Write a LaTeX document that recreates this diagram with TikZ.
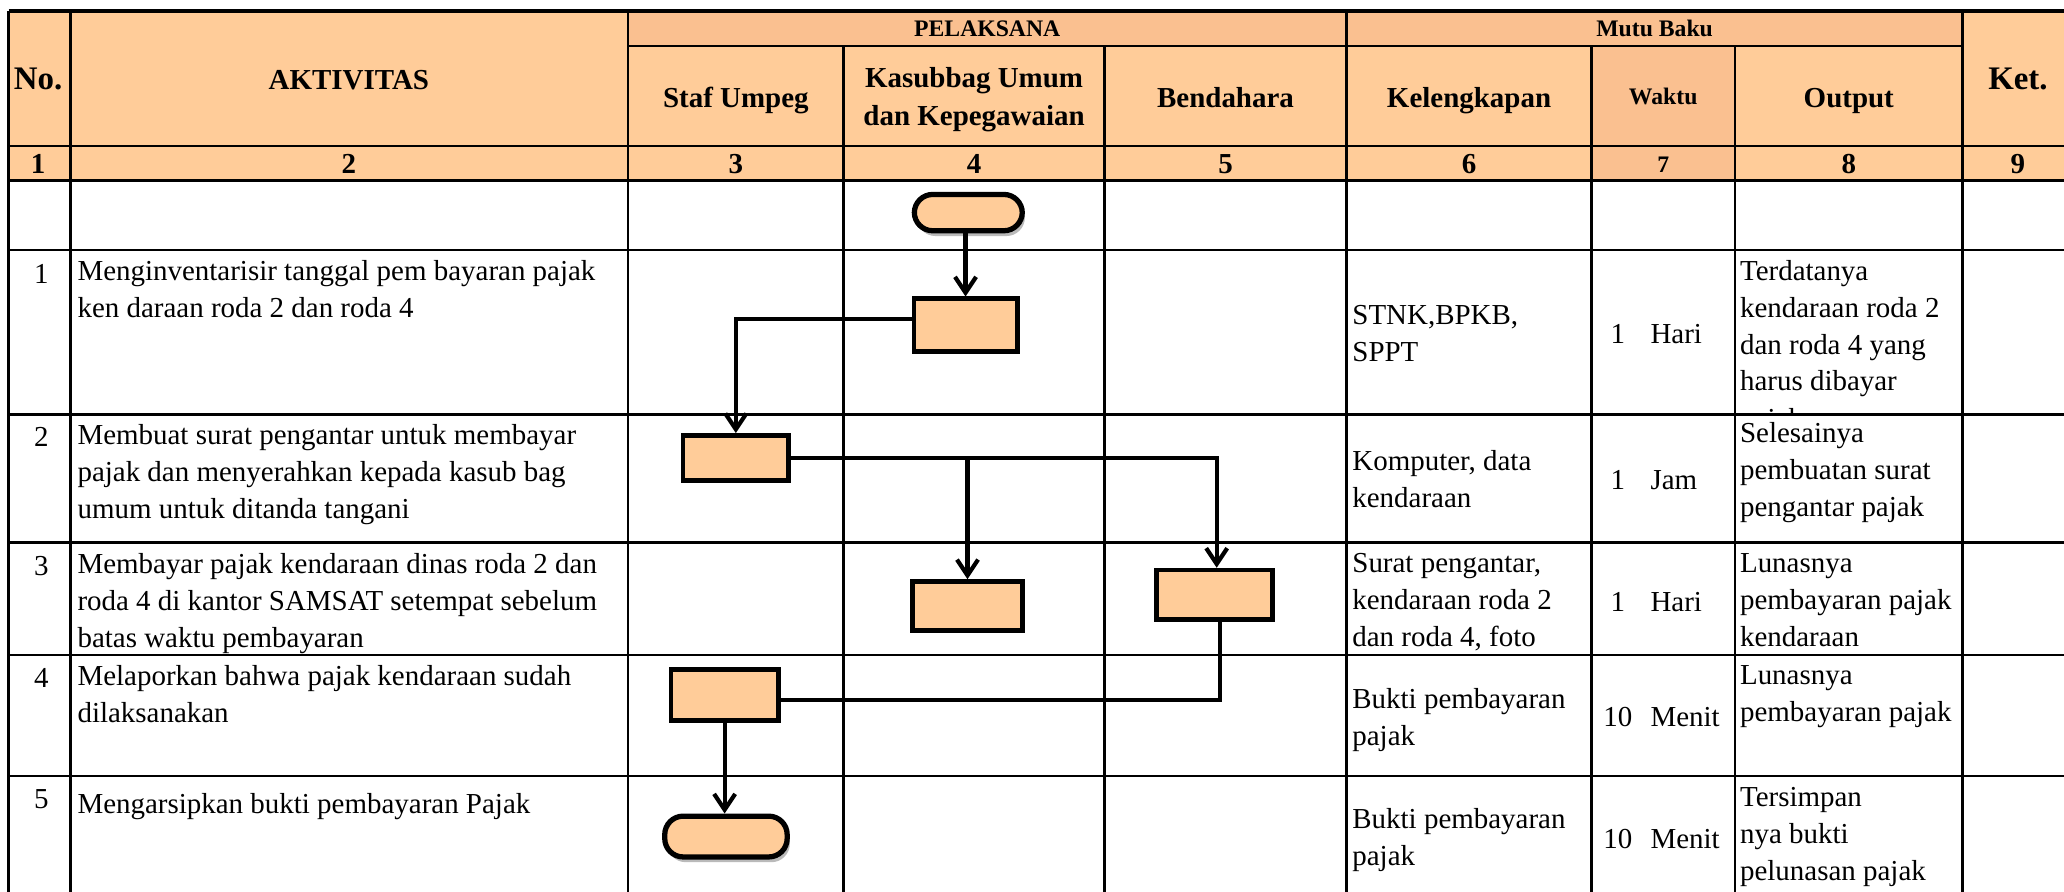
\documentclass[tikz,border=0pt]{standalone}
\usepackage{fontspec}
\setmainfont{Liberation Serif}
\usetikzlibrary{arrows.meta,shadows}
\definecolor{hdr}{HTML}{FFCC99}
\definecolor{hdrdark}{HTML}{FAC090}
\definecolor{boxfill}{HTML}{FFCC99}
\newcommand{\bodyfont}{\fontsize{11}{14}\selectfont}
\newcommand{\headfont}{\bfseries\fontsize{11}{14.3}\selectfont}
\newcommand{\smallhead}{\bfseries\fontsize{9}{11}\selectfont}
\newcommand{\bighead}{\bfseries\fontsize{12.5}{15}\selectfont}
\newcommand{\fbstrut}{\rule{0pt}{10pt}}
\begin{document}
\begin{tikzpicture}[x=0.5pt, y=-0.5pt,
  grid/.style={line width=1pt},
  cell/.style={anchor=north west, inner sep=0pt, align=left, font=\bodyfont, yshift=-2.3pt, execute at begin node=\fbstrut},
  txt/.style={anchor=base, inner sep=0pt, font=\bodyfont},
  unit/.style={anchor=base west, inner sep=0pt, font=\bodyfont},
  hd/.style={anchor=base, inner sep=0pt, font=\headfont},
  shd/.style={anchor=base, inner sep=0pt, font=\smallhead},
  bhd/.style={anchor=base, inner sep=0pt, font=\bighead},
  proc/.style={draw, line width=1.8pt, fill=boxfill, inner sep=0pt},
  term/.style={draw, line width=2pt, fill=boxfill, inner sep=0pt, rounded corners=7pt,
    drop shadow={shadow xshift=1pt, shadow yshift=-2pt, fill=black!45, opacity=0.6}},
  conn/.style={line width=1.6pt},
  arr/.style={conn, -{Straight Barb[length=6pt,width=8pt]}}]

\useasboundingbox (0,0) rectangle (1568,677);
\clip (0,0) rectangle (1568,677);

% header shading
\fill[hdr] (6.5,8.5) rectangle (1580,137);
\fill[hdrdark] (477,8.5) rectangle (1491,35);
\fill[hdrdark] (1209,35) rectangle (1318,137);

% table rules
\draw[line width=1.4pt] (6.5,8.5) -- (1580,8.5);
\draw[grid] (477,35) -- (1491,35);
\foreach \yy in {111,137,190,315,412,497.5,589.5}
  \draw[grid] (6.5,\yy) -- (1580,\yy);
\foreach \xx in {6.5,53.5,477,1023,1491}
  \draw[grid] (\xx,8.5) -- (\xx,690);
\foreach \xx in {641,839,1209,1318}
  \draw[grid] (\xx,35) -- (\xx,690);

% column headings
\node[bhd] (hno) at (29,68) {No.};
\node[hd] (hakt) at (265,68) {AKTIVITAS};
\node[shd] (hpel) at (750,28) {PELAKSANA};
\node[shd] (hmutu) at (1257,28) {Mutu Baku};
\node[bhd] (hket) at (1533,68) {Ket.};
\node[hd] (hstaf) at (559,81.5) {Staf Umpeg};
\node[anchor=north, inner sep=0pt, align=center, font=\headfont, yshift=-2.3pt, execute at begin node=\fbstrut]
  (hkasub) at (740,46.4) {Kasubbag Umum\\dan Kepegawaian};
\node[hd] (hbend) at (931,81.5) {Bendahara};
\node[hd] (hkel) at (1116,81.5) {Kelengkapan};
\node[shd] (hwak) at (1263.5,79) {Waktu};
\node[hd] (hout) at (1404.5,81.5) {Output};

% column numbers
\node[hd] (c1) at (29,132) {1};
\node[hd] (c2) at (265,132) {2};
\node[hd] (c3) at (559,132) {3};
\node[hd] (c4) at (740,132) {4};
\node[hd] (c5) at (931,132) {5};
\node[hd] (c6) at (1116,132) {6};
\node[shd] (c7) at (1263.5,131) {7};
\node[hd] (c8) at (1404.5,132) {8};
\node[hd] (c9) at (1533,132) {9};

% row numbers
\node[txt] (n1) at (31.5,215) {1};
\node[txt] (n2) at (31.5,339) {2};
\node[txt] (n3) at (31.5,437) {3};
\node[txt] (n4) at (31.5,522) {4};
\node[txt] (n5) at (31.5,614.5) {5};

% activities
\node[cell] (a1) at (58.5,192.7) {Menginventarisir tanggal pem bayaran pajak\\ken daraan roda 2 dan roda 4};
\node[cell] (a2) at (58.5,317.4) {Membuat surat pengantar untuk membayar\\pajak dan menyerahkan kepada kasub bag\\umum untuk ditanda tangani};
\node[cell] (a3) at (58.5,415.5) {Membayar pajak kendaraan dinas roda 2 dan\\roda 4 di kantor SAMSAT setempat sebelum\\batas waktu pembayaran};
\node[cell] (a4) at (58.5,500.5) {Melaporkan bahwa pajak kendaraan sudah\\dilaksanakan};
\node[cell] (a5) at (58.5,592.9) {Mengarsipkan bukti pembayaran Pajak};

% kelengkapan
\node[cell] (k1) at (1027,227) {STNK,BPKB,\\SPPT};
\node[cell] (k2) at (1027,337) {Komputer, data\\kendaraan};
\node[cell] (k3) at (1027,415.6) {Surat pengantar,\\kendaraan roda 2\\dan roda 4, foto};
\node[cell] (k4) at (1027,518) {Bukti pembayaran\\pajak};
\node[cell] (k5) at (1027,609.3) {Bukti pembayaran\\pajak};

% waktu
\node[txt] (w1n) at (1229,261) {1};
\node[unit] (w1u) at (1253.5,261) {Hari};
\node[txt] (w2n) at (1229,372) {1};
\node[unit] (w2u) at (1253.5,372) {Jam};
\node[txt] (w3n) at (1229,464.5) {1};
\node[unit] (w3u) at (1253.5,464.5) {Hari};
\node[txt] (w4n) at (1229,552) {10};
\node[unit] (w4u) at (1253.5,552) {Menit};
\node[txt] (w5n) at (1229,644.5) {10};
\node[unit] (w5u) at (1253.5,644.5) {Menit};

% output
\node[cell] (o1) at (1321.5,192.7) {Terdatanya\\kendaraan roda 2\\dan roda 4 yang\\harus dibayar};
\begin{scope}
  \clip (1318,190) rectangle (1491,314);
  \node[unit] (o1x) at (1321.5,325.5) {pajak};
\end{scope}
\node[cell] (o2) at (1321.5,316) {Selesainya\\pembuatan surat\\pengantar pajak};
\node[cell] (o3) at (1321.5,415.6) {Lunasnya\\pembayaran pajak\\kendaraan};
\node[cell] (o4) at (1321.5,500.5) {Lunasnya\\pembayaran pajak};
\node[cell] (o5) at (1321.5,593) {Tersimpan\\nya bukti\\pelunasan pajak};

% flow symbols
\node[term, minimum width=41pt, minimum height=13.8pt] (T1) at (735.6,161.5) {};
\node[proc, minimum width=39.2pt, minimum height=20pt] (A) at (733.5,247) {};
\node[proc, minimum width=40.2pt, minimum height=17.2pt] (B) at (559,348) {};
\node[proc, minimum width=41.7pt, minimum height=18.7pt] (C) at (735,460.5) {};
\node[proc, minimum width=43.9pt, minimum height=18.7pt] (D) at (922.7,451.8) {};
\node[proc, minimum width=40.7pt, minimum height=19.2pt] (E) at (550.5,528) {};
\node[term, minimum width=46.5pt, minimum height=15.5pt] (T2) at (551.5,635.5) {};

% flow connectors
\draw[arr] (A.north |- T1.south) -- (A.north);
\draw[arr] ([yshift=2.2pt]A.west) -| (B.north);
\draw[arr] (B.east) -| ([xshift=0.8pt]D.north);
\draw[arr] (C.north |- B.east) -- (C.north);
\draw[conn] ([xshift=2.2pt]D.south) |- ([yshift=-2pt]E.east);
\draw[arr] (E.south) -- (E.south |- T2.north);
\end{tikzpicture}
\end{document}
